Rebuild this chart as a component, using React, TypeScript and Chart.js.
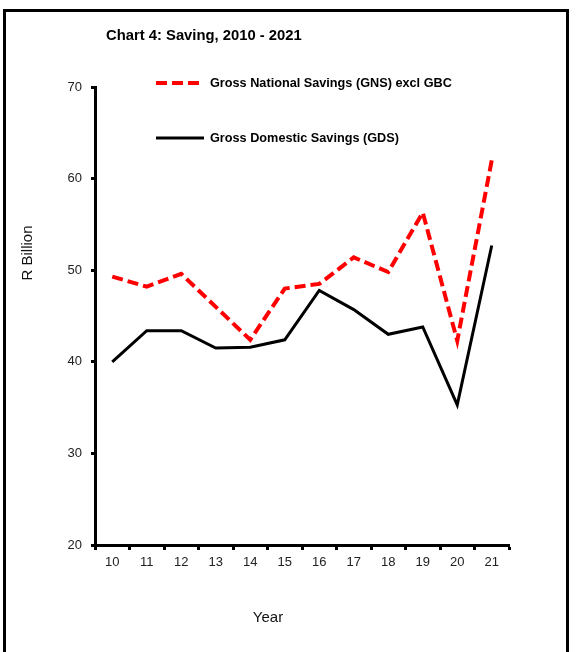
import React, { useEffect, useRef } from "react";
import { Chart, registerables } from "chart.js";

Chart.register(...registerables);

const categories = ["10", "11", "12", "13", "14", "15", "16", "17", "18", "19", "20", "21"];
const gnsValues = [49.3, 48.2, 49.6, 46.0, 42.4, 48.0, 48.5, 51.4, 49.8, 56.3, 42.3, 62.0];
const gdsValues = [40.0, 43.4, 43.4, 41.5, 41.6, 42.4, 47.8, 45.7, 43.0, 43.8, 35.3, 52.7];
const gnsLabel = "Gross National Savings (GNS) excl GBC";
const gdsLabel = "Gross Domestic Savings (GDS)";
const chartTitle = "Chart 4: Saving, 2010 - 2021";
const yTitle = "R Billion";
const xTitle = "Year";

const FONT = "'Liberation Sans', Arial, sans-serif";

const decorPlugin = {
  id: "decor",
  afterDraw(chart: any) {
    const ctx = chart.ctx;
    ctx.save();
    // outer frame (no bottom edge)
    ctx.strokeStyle = "#000";
    ctx.lineWidth = 3;
    ctx.beginPath();
    ctx.moveTo(4.5, 652);
    ctx.lineTo(4.5, 10.5);
    ctx.lineTo(567.5, 10.5);
    ctx.lineTo(567.5, 652);
    ctx.stroke();

    // title
    ctx.fillStyle = "#000";
    ctx.font = `bold 14.8px ${FONT}`;
    ctx.textAlign = "left";
    ctx.textBaseline = "middle";
    ctx.fillText(chartTitle, 106, 36);

    // legend
    const ds = chart.data.datasets;
    const rows = [
      { y: 83, d: ds[0] },
      { y: 138, d: ds[1] },
    ];
    rows.forEach((r) => {
      ctx.save();
      ctx.strokeStyle = r.d.borderColor;
      ctx.lineWidth = r.d.borderWidth;
      ctx.setLineDash(r.d.borderDash || []);
      ctx.beginPath();
      ctx.moveTo(156, r.y);
      ctx.lineTo(204, r.y);
      ctx.stroke();
      ctx.restore();
      ctx.fillStyle = "#000";
      ctx.font = `bold 12.7px ${FONT}`;
      ctx.textAlign = "left";
      ctx.textBaseline = "middle";
      ctx.fillText(r.d.label, 210, r.y);
    });

    // axis titles
    ctx.fillStyle = "#111";
    ctx.font = `15px ${FONT}`;
    ctx.textAlign = "center";
    ctx.textBaseline = "middle";
    ctx.fillText(xTitle, 268, 618);
    ctx.save();
    ctx.translate(28, 253);
    ctx.rotate(-Math.PI / 2);
    ctx.fillText(yTitle, 0, 0);
    ctx.restore();
    ctx.restore();
  },
};

export default function App() {
  const ref = useRef<HTMLCanvasElement | null>(null);
  useEffect(() => {
    if (!ref.current) return;
    const chart = new Chart(ref.current, {
      type: "line",
      data: {
        labels: categories,
        datasets: [
          {
            label: gnsLabel,
            data: gnsValues,
            borderColor: "#ff0000",
            borderWidth: 4,
            borderDash: [11, 5],
            pointRadius: 0,
            tension: 0,
            fill: false,
          },
          {
            label: gdsLabel,
            data: gdsValues,
            borderColor: "#000000",
            borderWidth: 3,
            pointRadius: 0,
            tension: 0,
            fill: false,
          },
        ],
      },
      options: {
        responsive: false,
        animation: false,
        layout: { padding: { left: 0, top: 87, right: 77, bottom: 0 } },
        plugins: {
          legend: { display: false },
          title: { display: false },
          tooltip: { enabled: false },
        },
        scales: {
          x: {
            offset: true,
            grid: {
              offset: true,
              drawOnChartArea: false,
              drawTicks: true,
              tickLength: 5,
              tickWidth: 3,
              tickColor: "#000",
            },
            border: { display: true, color: "#000", width: 3 },
            ticks: {
              color: "#222",
              font: { family: FONT, size: 13 },
              padding: 5,
              maxRotation: 0,
              autoSkip: false,
            },
            afterFit: (scale: any) => {
              scale.height = 107;
            },
          },
          y: {
            min: 20,
            max: 70,
            ticks: {
              stepSize: 10,
              color: "#222",
              font: { family: FONT, size: 13 },
              padding: 9,
            },
            grid: {
              drawOnChartArea: false,
              drawTicks: true,
              tickLength: 4,
              tickWidth: 3,
              tickColor: "#000",
            },
            border: { display: true, color: "#000", width: 3 },
            afterFit: (scale: any) => {
              scale.width = 95;
            },
          },
        },
      },
      plugins: [decorPlugin],
    });
    return () => chart.destroy();
  }, []);
  return (
    <div style={{ position: "fixed", left: 0, top: 0, width: 586, height: 652, background: "#fff" }}>
      <canvas ref={ref} width={586} height={652} style={{ display: "block" }} />
    </div>
  );
}
